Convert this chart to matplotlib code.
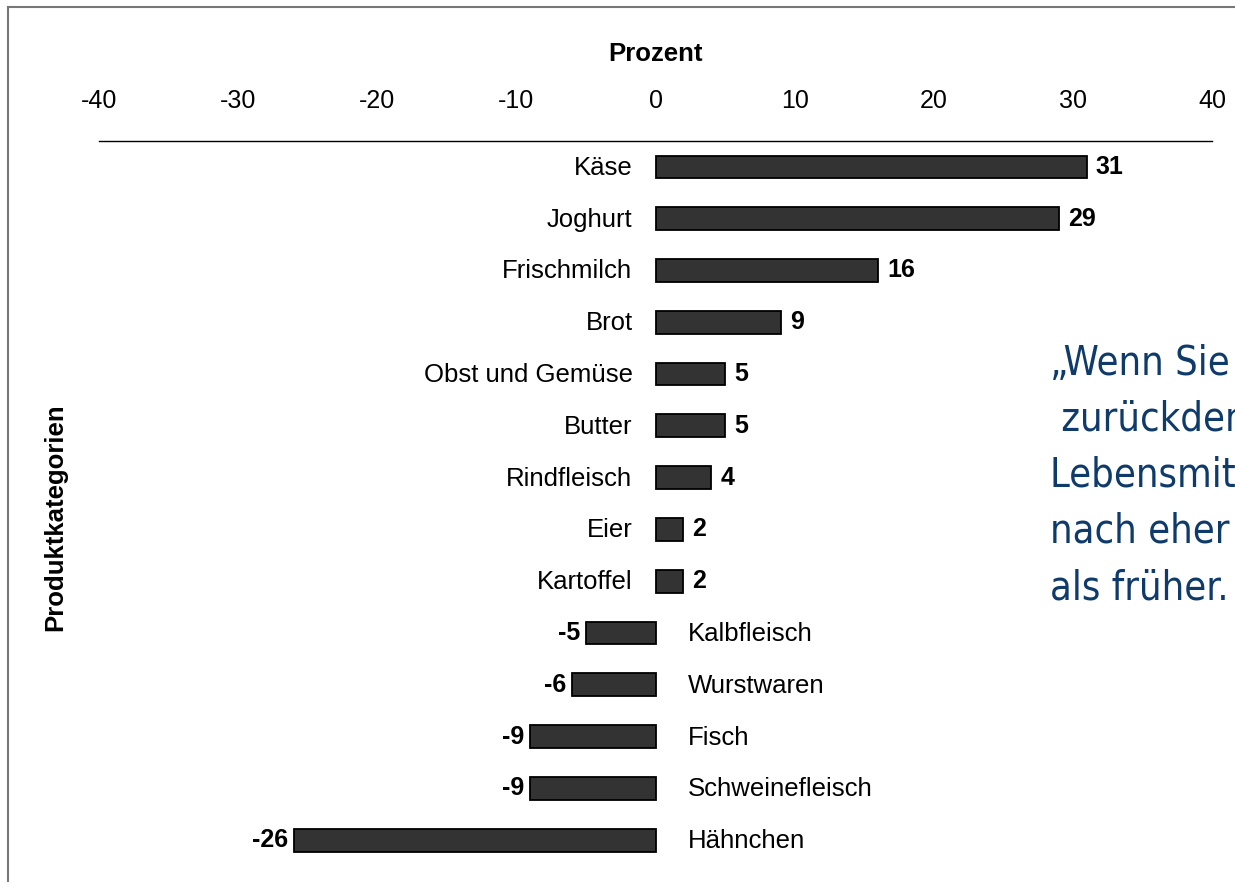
import matplotlib

matplotlib.use("Agg")
import matplotlib.pyplot as plt
from matplotlib import font_manager
from matplotlib.lines import Line2D
from matplotlib.transforms import offset_copy

plt.rcParams["font.family"] = ["Liberation Sans", "DejaVu Sans"]

categories = ["Käse", "Joghurt", "Frischmilch", "Brot", "Obst und Gemüse", "Butter", "Rindfleisch",
              "Eier", "Kartoffel", "Kalbfleisch", "Wurstwaren", "Fisch", "Schweinefleisch", "Hähnchen"]
values = [31, 29, 16, 9, 5, 5, 4, 2, 2, -5, -6, -9, -9, -26]
x_ticks = [-40, -30, -20, -10, 0, 10, 20, 30, 40]
quote_lines = ["„Wenn Sie an Ihren Einkauf", " zurückdenken, kaufen Sie",
               "Lebensmittel Ihrer Meinung", "nach eher mehr oder weniger", "als früher."]

W, H = 1235, 882
fig = plt.figure(figsize=(W / 100, H / 100), dpi=100)
ax = fig.add_axes([99 / W, 1 - 866 / H, (1212 - 99) / W, (866 - 141) / H])

y = range(len(categories))
ax.barh(y, values, height=0.44, color="#333333", edgecolor="black", linewidth=1.3, zorder=2)

ax.set_xlim(-40, 40)
ax.set_ylim(len(categories) - 0.5, -0.5)
ax.xaxis.tick_top()
ax.xaxis.set_label_position("top")
ax.set_xticks(x_ticks)
ax.set_xticklabels([str(t) for t in x_ticks])
ax.tick_params(axis="x", length=0, pad=20, labelsize=18)
ax.set_yticks([])
ax.set_xlabel("Prozent", fontsize=18.5, fontweight="bold", labelpad=20)
for side in ("left", "right", "bottom"):
    ax.spines[side].set_visible(False)
ax.spines["top"].set_linewidth(1.0)

# category names sit beside the zero line, values at the bar ends
for i, (name, v) in enumerate(zip(categories, values)):
    if v >= 0:
        name_tr = offset_copy(ax.transData, fig=fig, x=-23, y=-1, units="dots")
        ax.text(0, i, name, transform=name_tr, ha="right", va="center", fontsize=18.5)
        val_tr = offset_copy(ax.transData, fig=fig, x=9, y=0, units="dots")
        ax.text(v, i, str(v), transform=val_tr, ha="left", va="center", fontsize=18, fontweight="bold")
    else:
        name_tr = offset_copy(ax.transData, fig=fig, x=32, y=-1, units="dots")
        ax.text(0, i, name, transform=name_tr, ha="left", va="center", fontsize=18.5)
        val_tr = offset_copy(ax.transData, fig=fig, x=-6, y=0, units="dots")
        ax.text(v, i, str(v), transform=val_tr, ha="right", va="center", fontsize=18, fontweight="bold")

fig.text(55 / W, 1 - 517 / H, "Produktkategorien", rotation=90, ha="center", va="center",
         fontsize=18.5, fontweight="bold")

# question text on the right, running off the page
quote_font = font_manager.FontProperties(family=["DejaVu Sans"], stretch="condensed", size=28.5)
for k, line in enumerate(quote_lines):
    fig.text(1050 / W, 1 - (375 + 56 * k) / H, line, ha="left", va="baseline",
             color="#0f3b6b", fontproperties=quote_font)

# page frame
fig.add_artist(Line2D([8 / W, 8 / W], [0, 1 - 7 / H], color="#777777", linewidth=1.5))
fig.add_artist(Line2D([8 / W, 1], [1 - 7 / H, 1 - 7 / H], color="#777777", linewidth=1.5))

fig.savefig("out.png", dpi=100)
